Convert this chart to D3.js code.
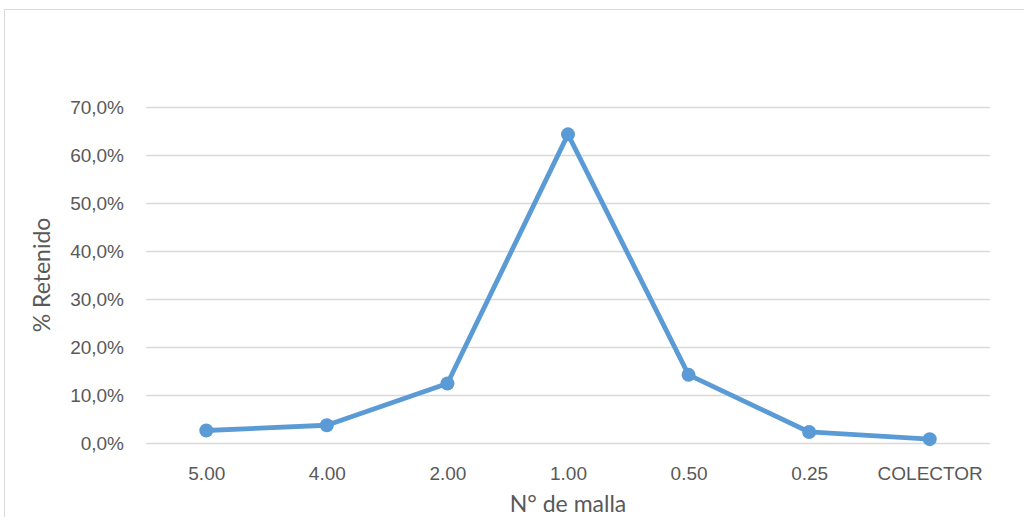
<!DOCTYPE html>
<html>
<head>
<meta charset="utf-8">
<script src="https://cdn.jsdelivr.net/npm/d3@7"></script>
<style>
  html, body { margin: 0; padding: 0; background: #fff; }
  svg { display: block; font-family: Lato, "Open Sans", sans-serif; }
</style>
</head>
<body>
<svg id="chart" width="1024" height="517"></svg>
<script>
// Sieve sizes (mesh number) and percent retained on each
const mallas = ["5.00", "4.00", "2.00", "1.00", "0.50", "0.25", "COLECTOR"];
const retenido = [2.6, 3.7, 12.4, 64.3, 14.2, 2.3, 0.8];
const yTicks = [0, 10, 20, 30, 40, 50, 60, 70];

const svg = d3.select("#chart");
const margin = { left: 146, right: 990, top: 107, bottom: 443 };

// outer chart frame
svg.append("rect")
  .attr("x", 4.5).attr("y", 9.5)
  .attr("width", 1030).attr("height", 520)
  .attr("fill", "#fff")
  .attr("stroke", "#d9d9d9").attr("stroke-width", 1);

const x = d3.scalePoint()
  .domain(mallas)
  .range([margin.left, margin.right])
  .padding(0.5);

const y = d3.scaleLinear()
  .domain([0, 70])
  .range([margin.bottom, margin.top]);

// horizontal gridlines and y tick labels
const yAxis = d3.axisLeft(y)
  .tickValues(yTicks)
  .tickSize(-(margin.right - margin.left))
  .tickPadding(22)
  .tickFormat(d => d.toFixed(1).replace(".", ",") + "%");

const gy = svg.append("g")
  .attr("transform", `translate(${margin.left},0)`)
  .call(yAxis);
gy.select(".domain").remove();
gy.selectAll(".tick line").attr("stroke", "#d9d9d9").attr("stroke-width", 1.3);
gy.selectAll(".tick text")
  .attr("fill", "#595959")
  .attr("font-size", 19);

// category labels under the baseline
const xAxis = d3.axisBottom(x).tickSize(0).tickPadding(24);
const gx = svg.append("g")
  .attr("transform", `translate(0,${margin.bottom})`)
  .call(xAxis);
gx.select(".domain").remove();
gx.selectAll(".tick text")
  .attr("fill", "#595959")
  .attr("font-size", 19);

// series line
const line = d3.line()
  .x((d, i) => x(mallas[i]))
  .y(d => y(d));

svg.append("path")
  .datum(retenido)
  .attr("d", line)
  .attr("fill", "none")
  .attr("stroke", "#5b9bd5")
  .attr("stroke-width", 4.8)
  .attr("stroke-linejoin", "round");

svg.selectAll("circle.pt")
  .data(retenido)
  .join("circle")
  .attr("class", "pt")
  .attr("cx", (d, i) => x(mallas[i]))
  .attr("cy", d => y(d))
  .attr("r", 7)
  .attr("fill", "#5b9bd5");

// axis titles
svg.append("text")
  .attr("x", (margin.left + margin.right) / 2)
  .attr("y", 512)
  .attr("text-anchor", "middle")
  .attr("fill", "#595959")
  .attr("font-size", 23)
  .text("N° de malla");

svg.append("text")
  .attr("transform", `translate(50,${(margin.top + margin.bottom) / 2}) rotate(-90)`)
  .attr("text-anchor", "middle")
  .attr("fill", "#595959")
  .attr("font-size", 23)
  .text("% Retenido");
</script>
</body>
</html>
